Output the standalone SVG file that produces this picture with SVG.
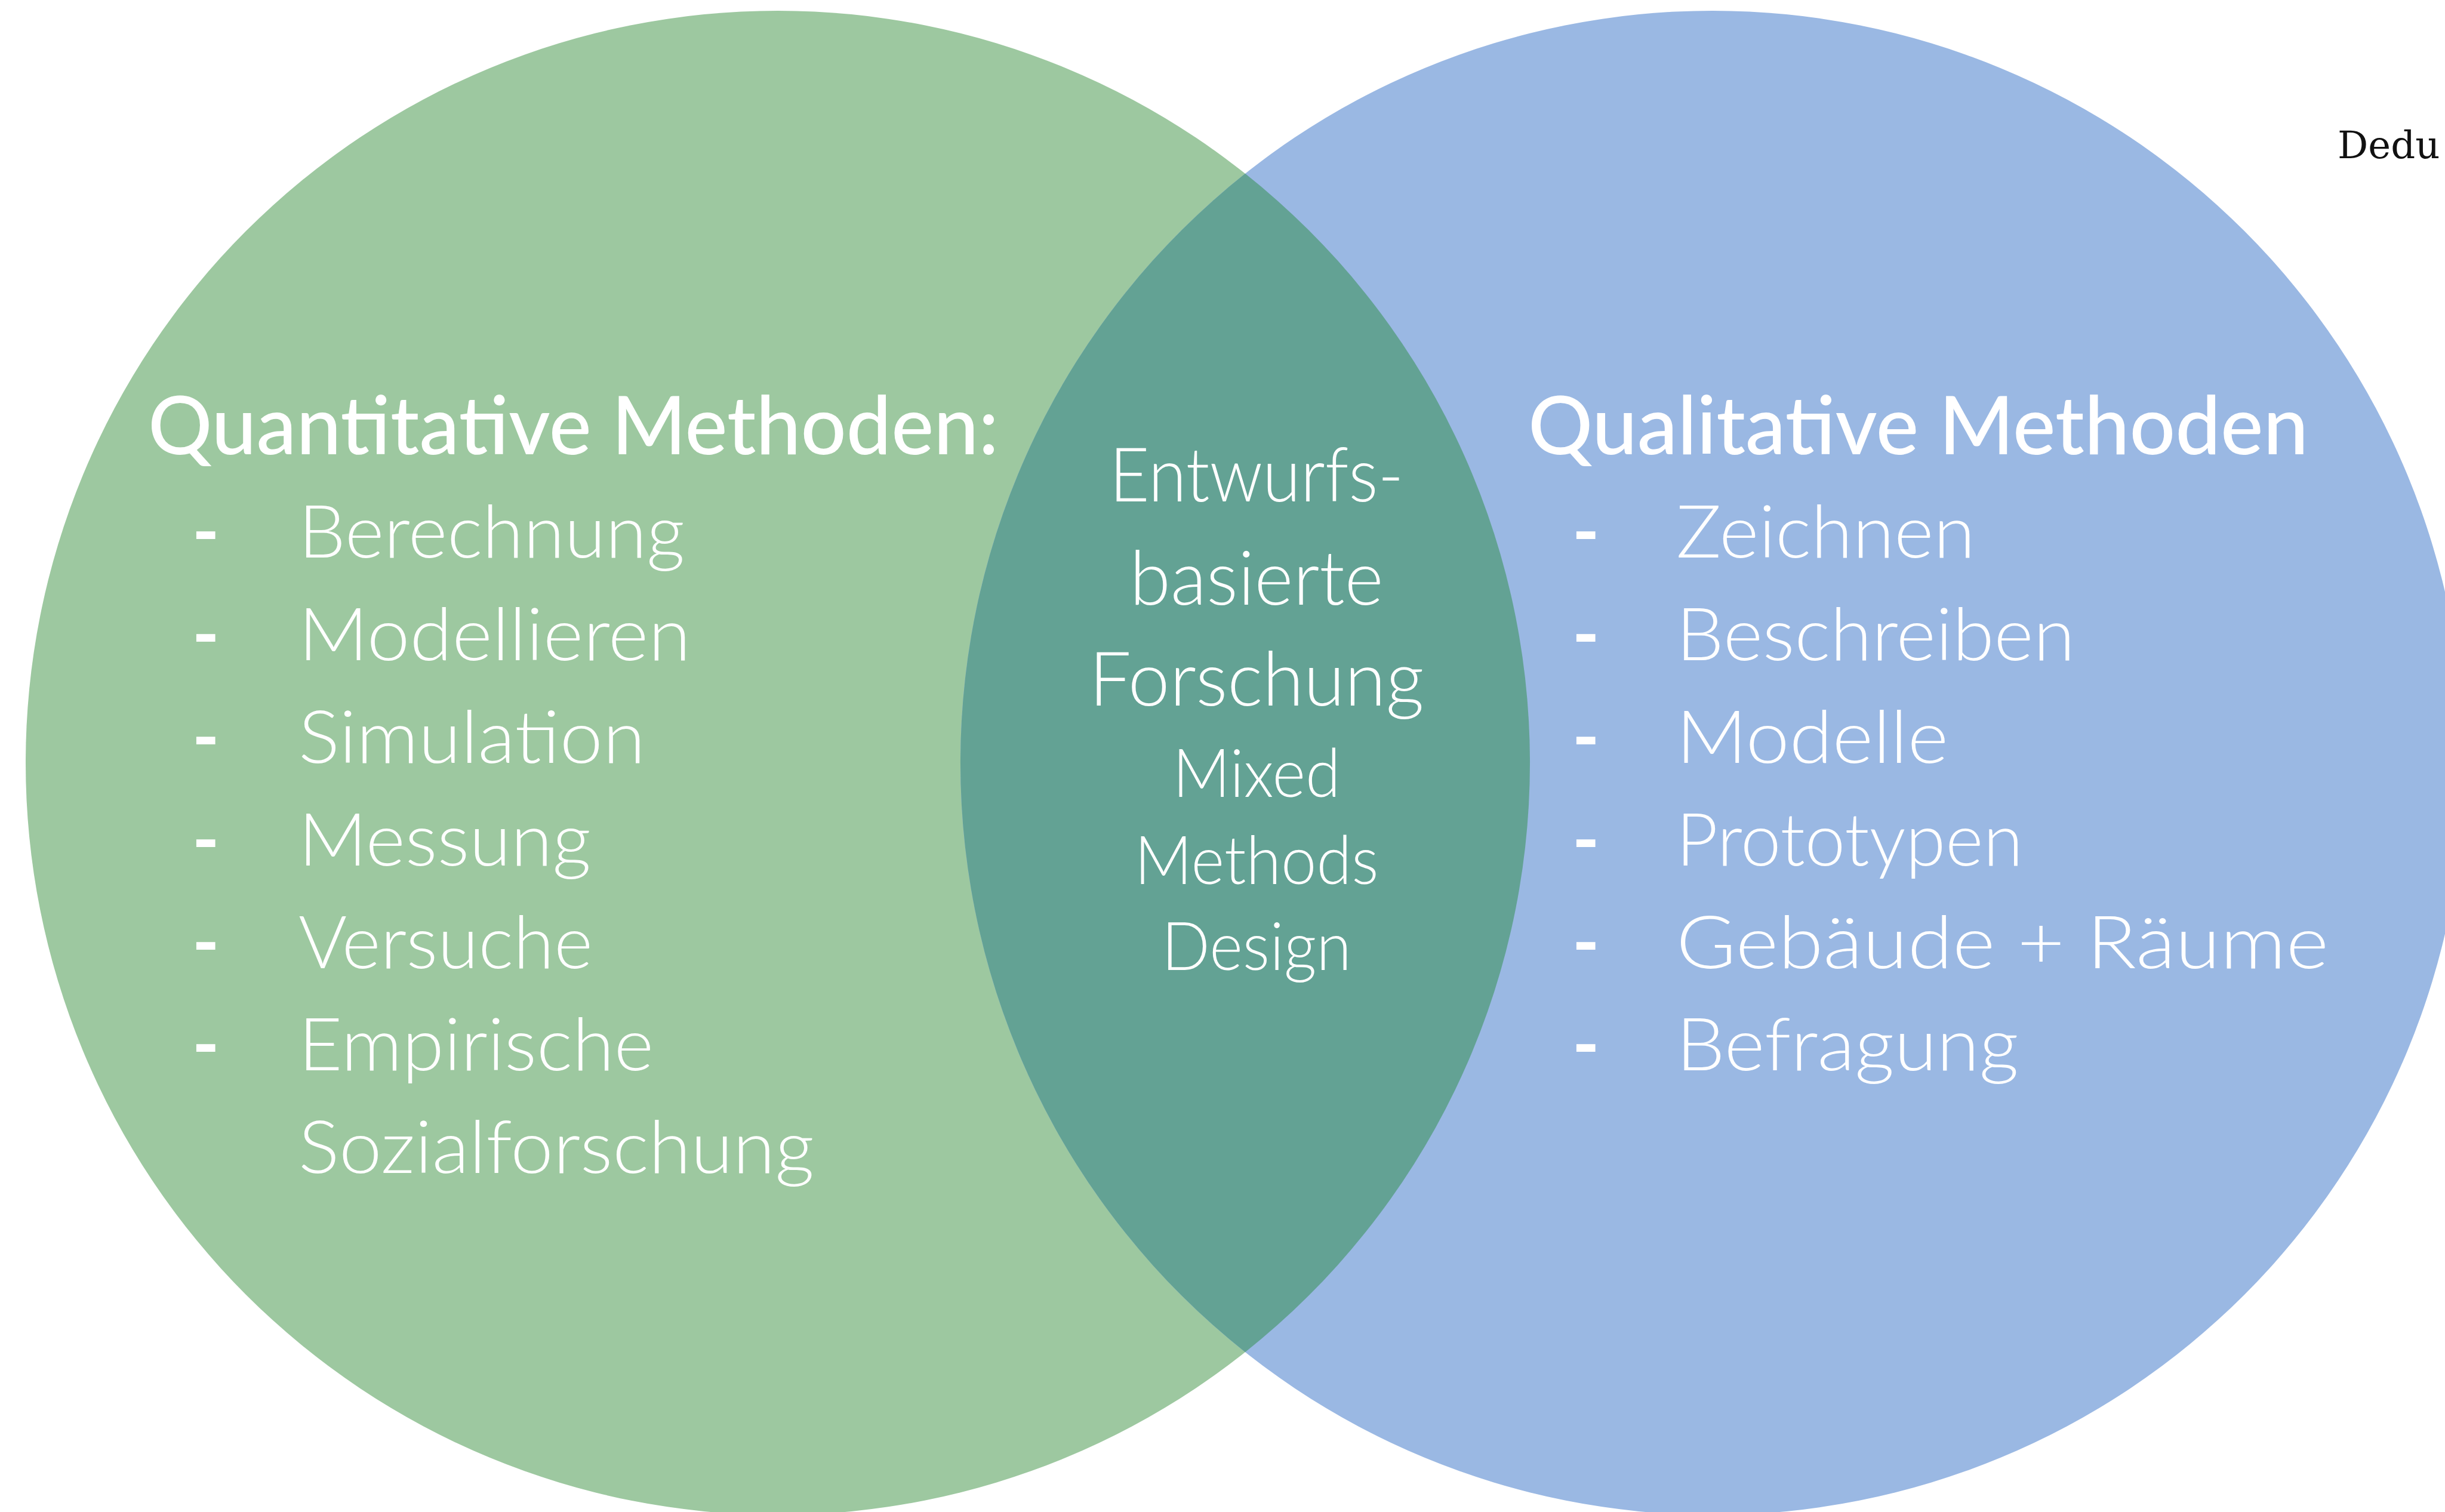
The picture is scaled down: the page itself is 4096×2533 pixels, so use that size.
<svg xmlns="http://www.w3.org/2000/svg" width="4096" height="2533" viewBox="0 0 4096 2533">
  <style>
    .t { font-family: Lato, "Noto Sans", "Liberation Sans", sans-serif; fill: #ffffff; }
    .head { font-weight: 500; font-size: 135px; }
    .item { font-weight: 300; font-size: 122px; }
    .dash { font-weight: 700; font-size: 122px; }
    .mid1 { font-weight: 300; font-size: 127px; text-anchor: middle; }
    .mid2 { font-weight: 300; font-size: 113px; text-anchor: middle; }
    .note { font-family: "DejaVu Serif", "Liberation Serif", serif; font-size: 64px; fill: #111111; }
  </style>
  <rect width="4096" height="2533" fill="#ffffff"/>

  <!-- Quantitative set -->
  <g id="quantitativ">
    <circle cx="1303" cy="1278" r="1260" fill="#9dc8a0"/>
  </g>

  <!-- Qualitative set -->
  <g id="qualitativ">
    <circle cx="2869" cy="1278" r="1260" fill="#9ab8e3"/>
  </g>

  <!-- Overlap of both sets -->
  <g id="schnittmenge">
    <path d="M 2086 290.8 A 1260 1260 0 0 1 2086 2265.2 A 1260 1260 0 0 1 2086 290.8 Z" fill="#63a294"/>
  </g>

  <g id="quantitativ-text" class="t">
    <text class="head" x="248" y="761" textLength="1425" lengthAdjust="spacingAndGlyphs">Quantitative Methoden:</text>
    <text class="dash" x="322" y="934">-</text>
    <text class="item" x="500" y="934" textLength="647" lengthAdjust="spacingAndGlyphs">Berechnung</text>
    <text class="dash" x="322" y="1106">-</text>
    <text class="item" x="500" y="1106" textLength="657" lengthAdjust="spacingAndGlyphs">Modellieren</text>
    <text class="dash" x="322" y="1278">-</text>
    <text class="item" x="500" y="1278" textLength="581" lengthAdjust="spacingAndGlyphs">Simulation</text>
    <text class="dash" x="322" y="1450">-</text>
    <text class="item" x="500" y="1450" textLength="490" lengthAdjust="spacingAndGlyphs">Messung</text>
    <text class="dash" x="322" y="1622">-</text>
    <text class="item" x="500" y="1622" textLength="493" lengthAdjust="spacingAndGlyphs">Versuche</text>
    <text class="dash" x="322" y="1793">-</text>
    <text class="item" x="500" y="1793" textLength="595" lengthAdjust="spacingAndGlyphs">Empirische</text>
    <text class="item" x="500" y="1965" textLength="864" lengthAdjust="spacingAndGlyphs">Sozialforschung</text>
  </g>

  <g id="schnittmenge-text" class="t">
    <text class="mid1" x="2105" y="840" textLength="493" lengthAdjust="spacingAndGlyphs">Entwurfs-</text>
    <text class="mid1" x="2105" y="1013" textLength="425" lengthAdjust="spacingAndGlyphs">basierte</text>
    <text class="mid1" x="2105" y="1182" textLength="561" lengthAdjust="spacingAndGlyphs">Forschung</text>
    <text class="mid2" x="2105" y="1335" textLength="281" lengthAdjust="spacingAndGlyphs">Mixed</text>
    <text class="mid2" x="2105" y="1481" textLength="409" lengthAdjust="spacingAndGlyphs">Methods</text>
    <text class="mid2" x="2105" y="1625" textLength="318" lengthAdjust="spacingAndGlyphs">Design</text>
  </g>

  <g id="qualitativ-text" class="t">
    <text class="head" x="2560" y="761" textLength="1307" lengthAdjust="spacingAndGlyphs">Qualitative Methoden</text>
    <text class="dash" x="2634" y="934">-</text>
    <text class="item" x="2808" y="934" textLength="501" lengthAdjust="spacingAndGlyphs">Zeichnen</text>
    <text class="dash" x="2634" y="1106">-</text>
    <text class="item" x="2808" y="1106" textLength="668" lengthAdjust="spacingAndGlyphs">Beschreiben</text>
    <text class="dash" x="2634" y="1278">-</text>
    <text class="item" x="2808" y="1278" textLength="456" lengthAdjust="spacingAndGlyphs">Modelle</text>
    <text class="dash" x="2634" y="1450">-</text>
    <text class="item" x="2808" y="1450" textLength="581" lengthAdjust="spacingAndGlyphs">Prototypen</text>
    <text class="dash" x="2634" y="1622">-</text>
    <text class="item" x="2808" y="1622" textLength="1093" lengthAdjust="spacingAndGlyphs">Gebäude + Räume</text>
    <text class="dash" x="2634" y="1793">-</text>
    <text class="item" x="2808" y="1793" textLength="574" lengthAdjust="spacingAndGlyphs">Befragung</text>
  </g>

  <g id="randnotiz">
    <text class="note" x="3916" y="265">Dedu</text>
  </g>
</svg>
